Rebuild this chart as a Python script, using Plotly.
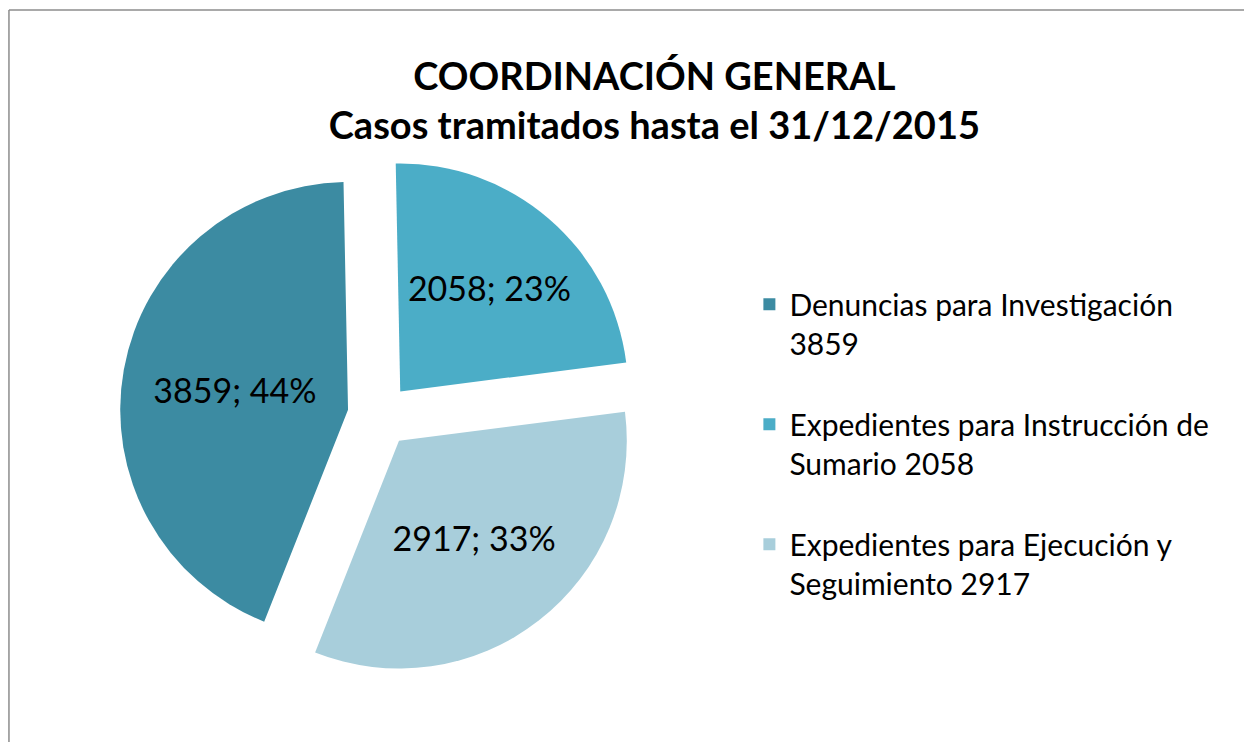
import plotly.graph_objects as go

categories = ["Denuncias para Investigación", "Expedientes para Instrucción de Sumario", "Expedientes para Ejecución y Seguimiento"]
legend_labels = [
    "Denuncias para Investigación<br>3859<br>\u00a0",
    "Expedientes para Instrucción de<br>Sumario 2058<br>\u00a0",
    "Expedientes para Ejecución y<br>Seguimiento 2917<br>\u00a0",
]
values = [3859, 2058, 2917]
colors = ["#3C8BA2", "#4BADC7", "#A8CEDB"]

FONT = "Lato"

fig = go.Figure(
    go.Pie(
        labels=legend_labels,
        values=values,
        sort=False,
        direction="clockwise",
        rotation=201.6,
        pull=[0.14, 0.14, 0.14],
        marker=dict(colors=colors, line=dict(width=0)),
        texttemplate="%{value}; %{percent:.0%}",
        textposition="inside",
        insidetextorientation="horizontal",
        textfont=dict(family=FONT, size=34, color="#000000"),
        domain=dict(x=[0.055, 0.555], y=[0.09, 0.79]),
        hovertext=categories,
        hoverinfo="text+value+percent",
    )
)

fig.update_layout(
    width=1244,
    height=742,
    margin=dict(l=0, r=0, t=0, b=0),
    paper_bgcolor="#FFFFFF",
    plot_bgcolor="#FFFFFF",
    title=dict(
        text="<b>COORDINACIÓN GENERAL<br>Casos tramitados hasta el 31/12/2015</b>",
        x=0.526,
        xanchor="center",
        y=0.879,
        yanchor="middle",
        font=dict(family=FONT, size=38, color="#000000"),
    ),
    legend=dict(
        x=0.6024,
        xanchor="left",
        y=0.625,
        yanchor="top",
        valign="top",
        font=dict(family=FONT, size=30, color="#000000"),
        itemsizing="constant",
        bgcolor="rgba(0,0,0,0)",
    ),
    showlegend=True,
    shapes=[
        dict(type="line", xref="paper", yref="paper", x0=0.0072, x1=1.0, y0=1 - 10 / 742, y1=1 - 10 / 742,
             line=dict(color="#8C8C8C", width=1.5)),
        dict(type="line", xref="paper", yref="paper", x0=0.0072, x1=0.0072, y0=1 - 10 / 742, y1=0.0,
             line=dict(color="#8C8C8C", width=1.5)),
    ],
)

fig.write_html("out.html", post_script="document.body.style.margin='0';",
               config={"displayModeBar": False})
